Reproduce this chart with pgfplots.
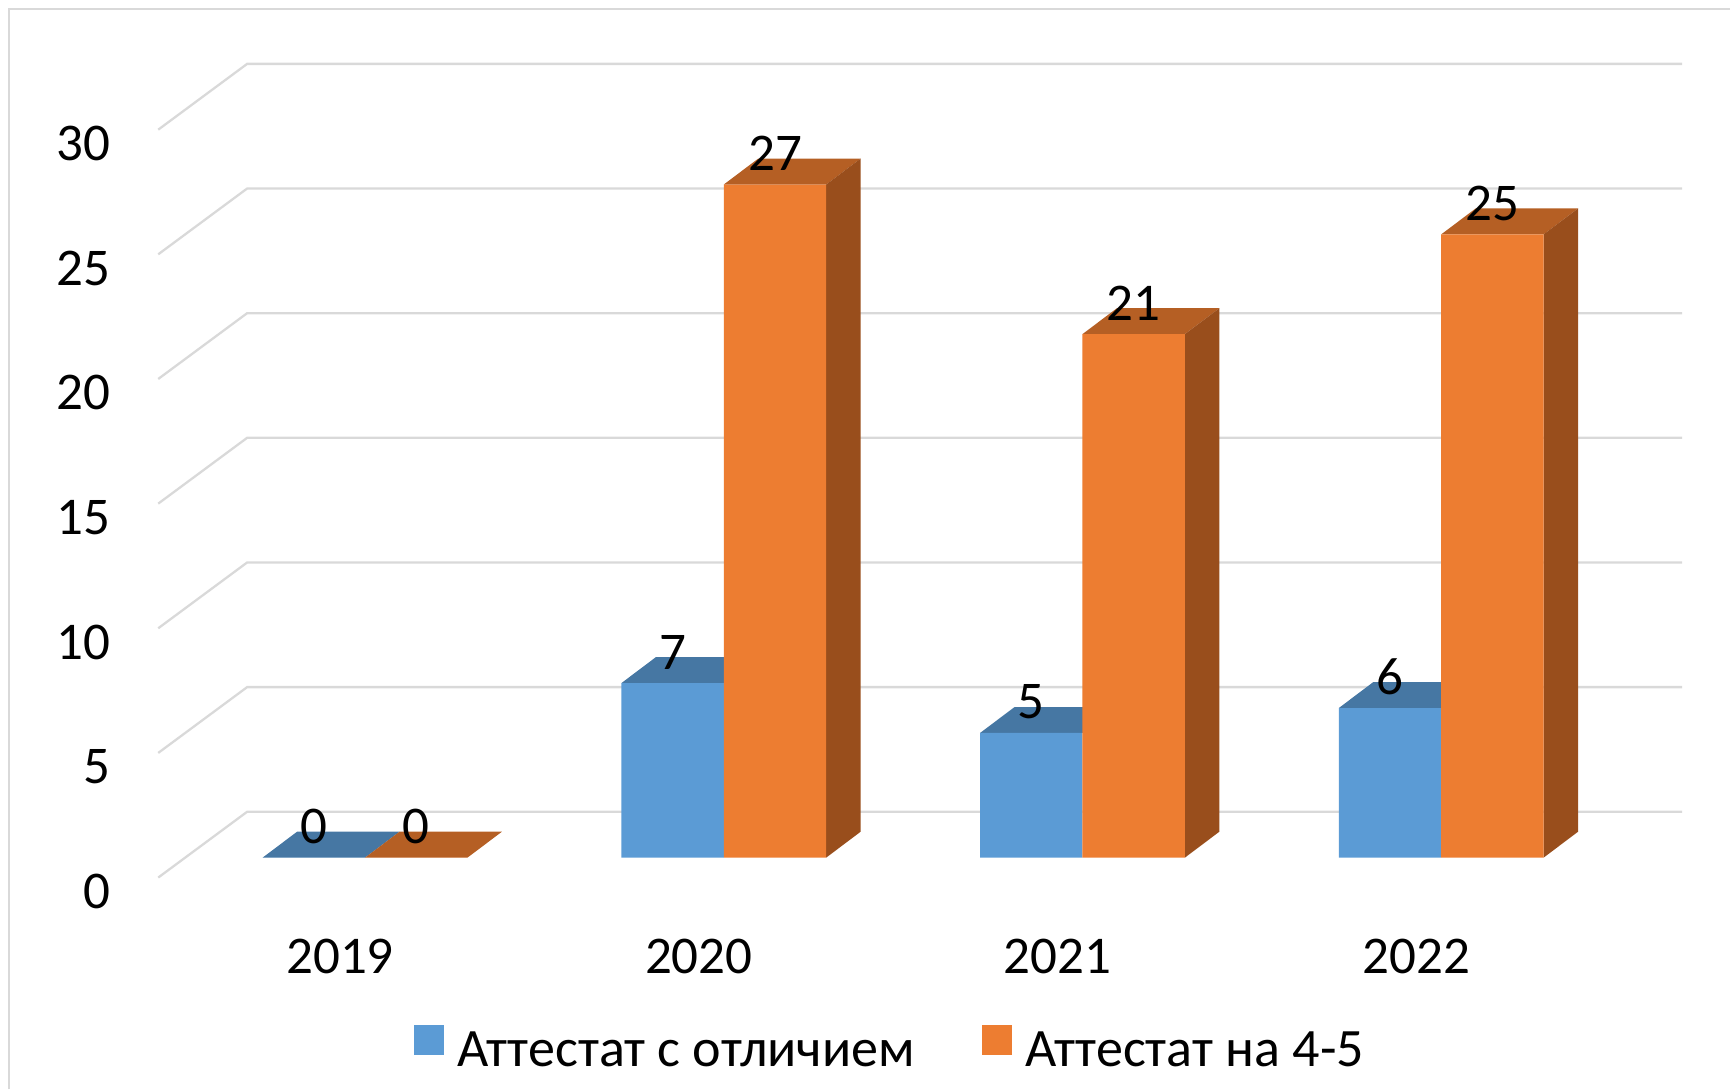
\documentclass[border=0pt]{standalone}
\usepackage{pgfplots}
\pgfplotsset{compat=1.18}
\usepackage{fontspec}
\setmainfont{Carlito}
\definecolor{gridc}{HTML}{D9D9D9}
\definecolor{blueF}{HTML}{5B9BD5}
\definecolor{blueT}{HTML}{4677A3}
\definecolor{orF}{HTML}{ED7D31}
\definecolor{orT}{HTML}{B55F24}
\definecolor{orS}{HTML}{994E1C}
\pgfplotsset{
  swatch/.style={legend image code/.code={\fill[#1] (0,1.2mm) rectangle (3mm,4.2mm);}},
}
\begin{document}
\begin{tikzpicture}[font=\fontsize{15.1}{18}\selectfont]
\begin{axis}[
  scale only axis, width=173.1mm, height=109mm,
  xmin=-1.01671, xmax=3.80501, ymin=-9.299, ymax=34.389,
  clip=false,
  axis line style={draw=none},
  major tick length=0pt,
  /pgf/number format/assume math mode=true,
  xtick={-0.0696,0.9304,1.9304,2.9304},
  xticklabels={2019,2020,2021,2022},
  ytick={-1.35,3.65,8.65,13.65,18.65,23.65,28.65},
  yticklabels={0,5,10,15,20,25,30},
  xticklabel style={anchor=center, yshift=37.8pt},
  yticklabel style={anchor=east, inner sep=0pt, xshift=31.5pt},
  legend style={at={(axis cs:0.1337,-7.65)}, anchor=west, draw=none, fill=none,
    inner sep=0pt, legend columns=2, font=\fontsize{15.4}{18}\selectfont,
    /tikz/every odd column/.append style={column sep=1.4mm},
    /tikz/every even column/.append style={column sep=6.7mm},
    nodes={inner sep=0pt, anchor=base west}},
  every node near coord/.append style={anchor=center, yshift=8.8pt, text=black},
  nodes near coords style={font=\fontsize{15.1}{18}\selectfont},
]
% frame
\addplot[gridc, line width=0.6pt, forget plot] coordinates {(-0.9916,-9.299)(-0.9916,34.03)(3.80501,34.03)};
% gridlines on floor-side wall and back wall
\addplot[gridc, line width=0.65pt, forget plot] coordinates {(-0.5766,-0.8)(-0.3287,1.84)(3.6713,1.84)};
\addplot[gridc, line width=0.65pt, forget plot] coordinates {(-0.5766,4.2)(-0.3287,6.84)(3.6713,6.84)};
\addplot[gridc, line width=0.65pt, forget plot] coordinates {(-0.5766,9.2)(-0.3287,11.84)(3.6713,11.84)};
\addplot[gridc, line width=0.65pt, forget plot] coordinates {(-0.5766,14.2)(-0.3287,16.84)(3.6713,16.84)};
\addplot[gridc, line width=0.65pt, forget plot] coordinates {(-0.5766,19.2)(-0.3287,21.84)(3.6713,21.84)};
\addplot[gridc, line width=0.65pt, forget plot] coordinates {(-0.5766,24.2)(-0.3287,26.84)(3.6713,26.84)};
\addplot[gridc, line width=0.65pt, forget plot] coordinates {(-0.5766,29.2)(-0.3287,31.84)(3.6713,31.84)};
% tops of the blue bars
\addplot[fill=blueT, draw=none, forget plot] coordinates {(-0.2855,0)(0,0)(0.096,1.04)(-0.1895,1.04)};
\addplot[fill=blueT, draw=none, forget plot] coordinates {(0.7145,7)(1,7)(1.096,8.04)(0.8105,8.04)};
\addplot[fill=blueT, draw=none, forget plot] coordinates {(1.7145,5)(2,5)(2.096,6.04)(1.8105,6.04)};
\addplot[fill=blueT, draw=none, forget plot] coordinates {(2.7145,6)(3,6)(3.096,7.04)(2.8105,7.04)};
% fronts of the blue bars
\addplot[ybar, bar width=0.2855, bar shift=-0.14275, fill=blueF, draw=none, swatch=blueF,
    nodes near coords, every node near coord/.append style={xshift=-14.6pt}]
  coordinates {(0,0)(1,7)(2,5)(3,6)};
\addlegendentry{Аттестат с отличием}
% tops of the orange bars
\addplot[fill=orT, draw=none, forget plot] coordinates {(0,0)(0.2855,0)(0.3815,1.04)(0.096,1.04)};
\addplot[fill=orT, draw=none, forget plot] coordinates {(1,27)(1.2855,27)(1.3815,28.04)(1.096,28.04)};
\addplot[fill=orT, draw=none, forget plot] coordinates {(2,21)(2.2855,21)(2.3815,22.04)(2.096,22.04)};
\addplot[fill=orT, draw=none, forget plot] coordinates {(3,25)(3.2855,25)(3.3815,26.04)(3.096,26.04)};
% sides of the orange bars
\addplot[fill=orS, draw=none, forget plot] coordinates {(1.2855,0)(1.3815,1.04)(1.3815,28.04)(1.2855,27)};
\addplot[fill=orS, draw=none, forget plot] coordinates {(2.2855,0)(2.3815,1.04)(2.3815,22.04)(2.2855,21)};
\addplot[fill=orS, draw=none, forget plot] coordinates {(3.2855,0)(3.3815,1.04)(3.3815,26.04)(3.2855,25)};
% fronts of the orange bars
\addplot[ybar, bar width=0.2855, bar shift=0.14275, fill=orF, draw=none, swatch=orF,
    nodes near coords, every node near coord/.append style={xshift=14.6pt}]
  coordinates {(0,0)(1,27)(2,21)(3,25)};
\addlegendentry{Аттестат на 4-5}
\end{axis}
\end{tikzpicture}
\end{document}
